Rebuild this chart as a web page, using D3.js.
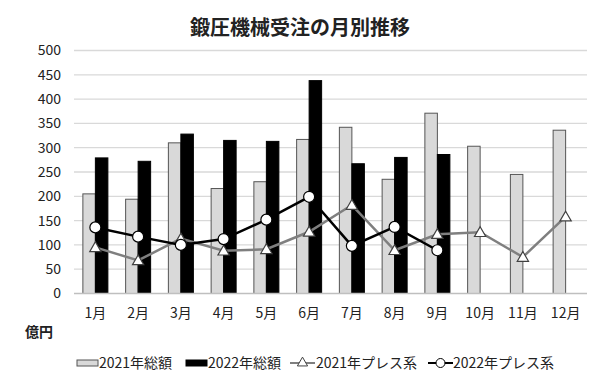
<!DOCTYPE html>
<html><head><meta charset="utf-8">
<script src="https://cdn.jsdelivr.net/npm/d3@7"></script>
<style>body{margin:0;background:#fff}svg{display:block}</style>
</head><body>
<svg id="c" width="600" height="392"></svg>
<script>
const months = ["1月","2月","3月","4月","5月","6月","7月","8月","9月","10月","11月","12月"];
const total2021 = [205,194,310,216,230,317,342,235,371,303,245,336];
const total2022 = [279,272,328,315,313,438,267,280,286,null,null,null];
const press2021 = [95,68,113,88,91,127,182,89,122,126,75,158];
const press2022 = [136,117,100,112,152,199,98,137,89,null,null,null];
const yTicks = [0,50,100,150,200,250,300,350,400,450,500];
const title = "鍛圧機械受注の月別推移";
const unitLabel = "億円";
const legendLabels = ["2021年総額","2022年総額","2021年プレス系","2022年プレス系"];

const font = "'Noto Sans CJK JP', 'Noto Sans', sans-serif";
const svg = d3.select("#c");
const L = 74, R = 587, T = 50.5, B = 293.5;
const x = d3.scaleBand().domain(months).range([L, R]).padding(0);
const y = d3.scaleLinear().domain([0, 500]).range([B, T]);
const gw = 25;
const x1 = d3.scaleBand().domain([0,1]).range([0, gw]);

// title
svg.append("text").attr("x", 300).attr("y", 35).attr("text-anchor","middle")
  .attr("font-family", font).attr("font-size", 20).attr("font-weight", 700).attr("fill","#222").text(title);

// grid
svg.append("g").selectAll("line").data(yTicks.filter(d=>d>0)).join("line")
  .attr("x1", L).attr("x2", R).attr("y1", d=>y(d)).attr("y2", d=>y(d))
  .attr("stroke", "#d9d9d9").attr("stroke-width", 1.3);

// y axis labels
const yAxis = d3.axisLeft(y).tickValues(yTicks).tickSize(0).tickPadding(13);
const ga = svg.append("g").attr("transform", `translate(${L},0)`).call(yAxis);
ga.select(".domain").remove();
ga.selectAll("text").attr("font-family", font).attr("font-size", 14).attr("fill","#222");

// bars
const c = d => x(d) + x.bandwidth()/2 - gw/2;
svg.append("g").selectAll("rect").data(months.map((m,i)=>({m,v:total2021[i]}))).join("rect")
  .attr("x", d => c(d.m) + x1(0)).attr("width", x1.bandwidth())
  .attr("y", d => y(d.v)).attr("height", d => y(0) - y(d.v))
  .attr("fill", "#d9d9d9").attr("stroke", "#555").attr("stroke-width", 1);
svg.append("g").selectAll("rect").data(months.map((m,i)=>({m,v:total2022[i]})).filter(d=>d.v!=null)).join("rect")
  .attr("x", d => c(d.m) + x1(1)).attr("width", x1.bandwidth())
  .attr("y", d => y(d.v)).attr("height", d => y(0) - y(d.v))
  .attr("fill", "#000").attr("stroke", "#000").attr("stroke-width", 1);

// x axis baseline
svg.append("line").attr("x1", L).attr("x2", R).attr("y1", y(0)).attr("y2", y(0))
  .attr("stroke", "#bfbfbf").attr("stroke-width", 1.5);

// x axis labels
const xAxis = d3.axisBottom(x).tickSize(0).tickPadding(15);
const gx = svg.append("g").attr("transform", `translate(0,${B})`).call(xAxis);
gx.select(".domain").remove();
gx.selectAll("text").attr("font-family", font).attr("font-size", 14).attr("fill","#222");

// lines
const cx = d => x(d) + x.bandwidth()/2;
const d21 = months.map((m,i)=>({m,v:press2021[i]}));
const d22 = months.map((m,i)=>({m,v:press2022[i]})).filter(d=>d.v!=null);
const line = d3.line().x(d=>cx(d.m)).y(d=>y(d.v));
svg.append("path").datum(d21).attr("d", line).attr("fill","none").attr("stroke","#7f7f7f").attr("stroke-width",2.5);
const tri = d3.symbol().type(d3.symbolTriangle).size(55);
svg.append("g").selectAll("path").data(d21).join("path")
  .attr("d", tri).attr("transform", d=>`translate(${cx(d.m)},${y(d.v)+1})`)
  .attr("fill","#fff").attr("stroke","#404040").attr("stroke-width",1.2);
svg.append("path").datum(d22).attr("d", line).attr("fill","none").attr("stroke","#000").attr("stroke-width",2.5);
svg.append("g").selectAll("circle").data(d22).join("circle")
  .attr("cx", d=>cx(d.m)).attr("cy", d=>y(d.v)).attr("r", 5.5)
  .attr("fill","#fff").attr("stroke","#000").attr("stroke-width",1.2);

// unit label
svg.append("text").attr("x", 25).attr("y", 337).attr("font-family", font).attr("font-size", 14)
  .attr("font-weight", 700).attr("fill","#222").text(unitLabel);

// legend
const ly = 363;
const lg = svg.append("g").attr("font-family", font).attr("font-size", 14).attr("fill","#222");
lg.append("rect").attr("x",77).attr("y",ly-3).attr("width",21).attr("height",6).attr("fill","#d9d9d9").attr("stroke","#555");
lg.append("text").attr("x",99).attr("y",ly+5).text(legendLabels[0]);
lg.append("rect").attr("x",186).attr("y",ly-3).attr("width",21).attr("height",6).attr("fill","#000").attr("stroke","#000");
lg.append("text").attr("x",208).attr("y",ly+5).text(legendLabels[1]);
lg.append("line").attr("x1",290).attr("x2",315).attr("y1",ly).attr("y2",ly).attr("stroke","#7f7f7f").attr("stroke-width",2);
lg.append("path").attr("d", d3.symbol().type(d3.symbolTriangle).size(45)).attr("transform",`translate(302.5,${ly})`)
  .attr("fill","#fff").attr("stroke","#404040").attr("stroke-width",1);
lg.append("text").attr("x",316).attr("y",ly+5).text(legendLabels[2]);
lg.append("line").attr("x1",428).attr("x2",453).attr("y1",ly).attr("y2",ly).attr("stroke","#000").attr("stroke-width",2);
lg.append("circle").attr("cx",440.5).attr("cy",ly).attr("r",4.5).attr("fill","#fff").attr("stroke","#000").attr("stroke-width",1);
lg.append("text").attr("x",453).attr("y",ly+5).text(legendLabels[3]);
</script>
</body></html>
